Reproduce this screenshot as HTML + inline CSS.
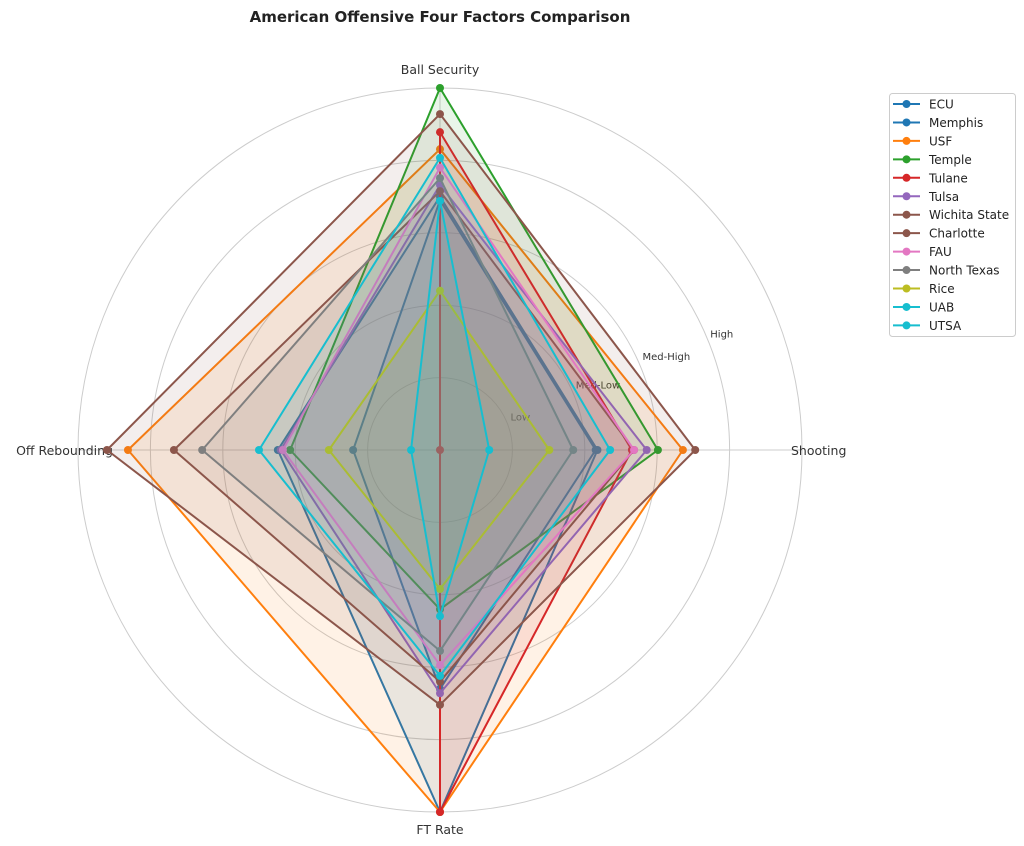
<!DOCTYPE html>
<html><head><meta charset="utf-8"><style>
body{margin:0;background:#fff;}
svg{display:block;font-family:"DejaVu Sans","Liberation Sans",sans-serif;}
</style></head><body>
<svg id="chart" width="1024" height="846" viewBox="0 0 1024 846">
<text x="440" y="22" text-anchor="middle" font-size="15" font-weight="bold" fill="#222">American Offensive Four Factors Comparison</text>
<g id="grid"></g><g id="series"></g><g id="legend"></g>
</svg>
<script>
const axes=["Ball Security","Shooting","FT Rate","Off Rebounding"];
const teams=["ECU","Memphis","USF","Temple","Tulane","Tulsa","Wichita State","Charlotte","FAU","North Texas","Rice","UAB","UTSA"];
const colors=["#1f77b4","#1f77b4","#ff7f0e","#2ca02c","#d62728","#9467bd","#8c564b","#8c564b","#e377c2","#7f7f7f","#bcbd22","#17becf","#17becf"];
// values per team: [Ball Security, Shooting, FT Rate, Off Rebounding], fraction of outer ring
const ballSecurity=[0.70,0.69,0.831,1.0,0.878,0.732,0.928,0.715,0.78,0.751,0.44,0.807,0.688];
const shooting=[0.435,0.43,0.671,0.602,0.53,0.571,0.705,0.536,0.536,0.368,0.302,0.47,0.136];
const ftRate=[1.0,0.66,1.0,0.44,1.0,0.672,0.704,0.64,0.594,0.555,0.384,0.624,0.459];
const offReb=[0.448,0.24,0.862,0.414,0,0.44,0.92,0.735,0.434,0.657,0.307,0.5,0.08];
const ringLabels=["Low","Med-Low","Med-High","High"];
const ringVals=[0.2,0.4,0.6,0.8,1.0];
const NS="http://www.w3.org/2000/svg";
const cx=440,cy=450,R=362;
function mk(tag,attrs,parent){const e=document.createElementNS(NS,tag);for(const k in attrs)e.setAttribute(k,attrs[k]);parent.appendChild(e);return e;}
const angles=[-90,0,90,180].map(a=>a*Math.PI/180);
function pt(i,v){return [cx+Math.cos(angles[i])*v*R, cy+Math.sin(angles[i])*v*R];}
const grid=document.getElementById('grid');
ringVals.forEach((v,i)=>{const c=mk('circle',{cx:cx,cy:cy,r:v*R,fill:'none',stroke:'#ccc','stroke-width':1},grid);

});
const labelPos=[[440,74,'middle'],[791,455,'start'],[440,834,'middle'],[113,455,'end']];
axes.forEach((a,i)=>{const p=pt(i,1);const l=mk('line',{x1:cx,y1:cy,x2:p[0],y2:p[1],stroke:'#ccc','stroke-width':1},grid);


const lp=labelPos[i];
const t=mk('text',{x:lp[0],y:lp[1],'text-anchor':lp[2],'font-size':12.5,fill:'#333'},grid);t.textContent=a;

});
const ringLabelR=[87,171,245,305];
ringLabels.forEach((s,i)=>{const r=ringLabelR[i],an=-22.5*Math.PI/180;
const t=mk('text',{x:cx+Math.cos(an)*r,y:cy+Math.sin(an)*r+4,'text-anchor':'middle','font-size':10,fill:'#333'},grid);t.textContent=s;

});
const ser=document.getElementById('series');
teams.forEach((tm,k)=>{const vals=[ballSecurity[k],shooting[k],ftRate[k],offReb[k]];
const pts=vals.map((v,i)=>pt(i,v));const ps=pts.map(p=>p.join(',')).join(' ');
const g=mk('g',{},ser);


mk('polygon',{points:ps,fill:colors[k],'fill-opacity':0.1,stroke:'none'},g);
mk('polygon',{points:ps,fill:'none',stroke:colors[k],'stroke-width':2,'stroke-linejoin':'round'},g);
pts.forEach(p=>{const c=mk('circle',{cx:p[0],cy:p[1],r:4,fill:colors[k]},g);

});});
const lg=document.getElementById('legend');
const box=mk('rect',{x:889.5,y:93.5,width:126,height:243,rx:3,fill:'#fff',stroke:'#ccc'},lg);


teams.forEach((tm,k)=>{const y=104+k*18.45;const g=mk('g',{},lg);


mk('line',{x1:893,y1:y,x2:920,y2:y,stroke:colors[k],'stroke-width':2},g);
mk('circle',{cx:906.5,cy:y,r:4,fill:colors[k]},g);
const t=mk('text',{x:929,y:y+4.5,'font-size':12,fill:'#222'},g);t.textContent=tm;});
</script>
</body></html>
